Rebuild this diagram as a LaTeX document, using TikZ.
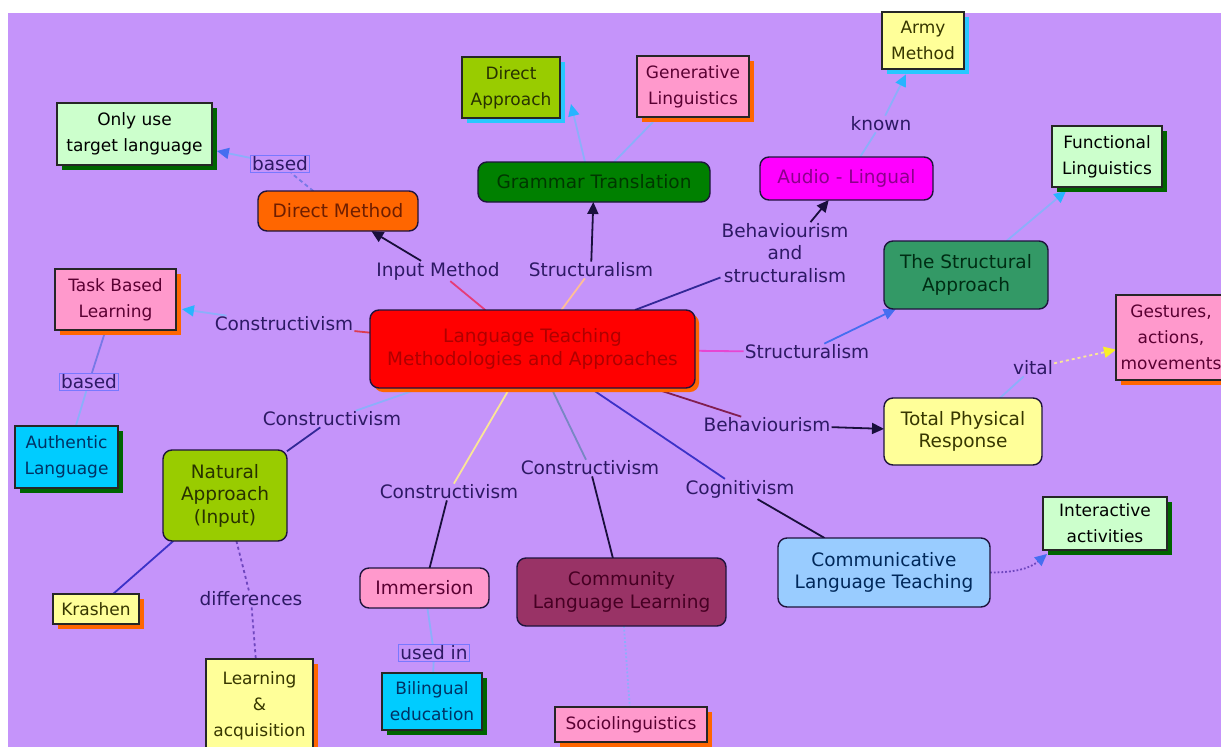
\documentclass[tikz,border=0pt]{standalone}
\usepackage{fontspec}
\setmainfont{DejaVu Sans}
\usetikzlibrary{arrows.meta,shadows}
\pgfdeclarelayer{bg}
\pgfdeclarelayer{edges}
\pgfsetlayers{bg,edges,main}
\definecolor{bgpurple}{RGB}{197,148,250}
\definecolor{boxline}{RGB}{30,20,60}
\definecolor{labtext}{RGB}{45,25,100}
\definecolor{labbox}{RGB}{120,120,255}
\definecolor{shorange}{RGB}{255,102,0}
\definecolor{shgreen}{RGB}{0,100,0}
\definecolor{shcyan}{RGB}{40,200,255}
\definecolor{cred}{RGB}{255,0,0}
\definecolor{credtext}{RGB}{175,0,0}
\definecolor{corange}{RGB}{255,102,0}
\definecolor{corangetext}{RGB}{110,30,0}
\definecolor{cgreen}{RGB}{0,128,0}
\definecolor{cgreentext}{RGB}{0,55,0}
\definecolor{cmag}{RGB}{255,0,255}
\definecolor{cmagtext}{RGB}{140,0,140}
\definecolor{cteal}{RGB}{51,153,102}
\definecolor{ctealtext}{RGB}{0,45,20}
\definecolor{cyel}{RGB}{255,255,153}
\definecolor{cyeltext}{RGB}{55,55,0}
\definecolor{cltblue}{RGB}{153,204,255}
\definecolor{cltbluetext}{RGB}{0,40,90}
\definecolor{cmaroon}{RGB}{153,51,102}
\definecolor{cmaroontext}{RGB}{70,0,35}
\definecolor{cpink}{RGB}{255,153,204}
\definecolor{cpinktext}{RGB}{90,0,50}
\definecolor{clime}{RGB}{153,204,0}
\definecolor{climetext}{RGB}{40,50,0}
\definecolor{cmint}{RGB}{204,255,204}
\definecolor{ccyan}{RGB}{0,204,255}
\definecolor{ccyantext}{RGB}{0,50,100}
\definecolor{dark}{RGB}{25,15,60}
\definecolor{lblue}{RGB}{140,175,250}
\definecolor{arrcyan}{RGB}{40,180,255}
\definecolor{arrblue}{RGB}{70,110,240}
\definecolor{lnpink}{RGB}{230,60,120}
\definecolor{lnpeach}{RGB}{255,190,150}
\definecolor{lnnavy}{RGB}{50,40,150}
\definecolor{lnmag}{RGB}{230,70,210}
\definecolor{lnmaroon}{RGB}{130,30,80}
\definecolor{lnblue}{RGB}{60,50,200}
\definecolor{lnslate}{RGB}{120,135,195}
\definecolor{lnyellow}{RGB}{250,230,150}
\definecolor{lnred}{RGB}{220,60,80}
\definecolor{lnpurple}{RGB}{110,70,190}
\definecolor{lnlav}{RGB}{120,120,230}
\definecolor{arryellow}{RGB}{250,240,40}
\newcommand\rfont{\fontsize{18.5}{22.5}\selectfont}
\newcommand\cfont{\fontsize{17}{26}\selectfont}
\tikzset{
  rbox/.style={draw=boxline, line width=1.4pt, rounded corners=9pt, inner sep=0pt, outer sep=0pt, align=center, font=\rfont},
  cbox/.style={draw=black!85, line width=1.2pt, inner sep=0pt, outer sep=0pt, align=center, font=\cfont},
  sh/.style={drop shadow={shadow xshift=5pt, shadow yshift=-5pt, fill=#1, opacity=1}},
  lab/.style={text=labtext, font=\rfont, inner sep=1pt, align=center},
  blab/.style={lab, draw=labbox, line width=0.8pt, inner sep=1.5pt},
  conn/.style={line width=1.8pt},
  arr/.style={-{Triangle[length=12pt,width=11pt]}},
}
\begin{document}
\begin{tikzpicture}[x=1pt,y=-1pt]
\useasboundingbox (0,0) rectangle (1221,747);
\begin{pgfonlayer}{bg}
\fill[white] (0,0) rectangle (1221,747);
\fill[bgpurple] (8,13) rectangle (1221,747);
\end{pgfonlayer}
\clip (0,0) rectangle (1221,747);

% rounded boxes
\node[rbox, fill=cred, text=credtext, minimum width=325pt, minimum height=78pt, drop shadow={shadow xshift=4pt, shadow yshift=-4pt, fill=shorange, opacity=1}] (central) at (532.5,349) {Language Teaching\\Methodologies and Approaches};
\node[rbox, fill=corange, text=corangetext, minimum width=160pt, minimum height=40pt] (dm) at (338,211) {Direct Method};
\node[rbox, fill=cgreen, text=cgreentext, minimum width=232pt, minimum height=40pt] (gt) at (594,182) {Grammar Translation};
\node[rbox, fill=cmag, text=cmagtext, minimum width=173pt, minimum height=43pt] (al) at (846.5,178.5) {Audio - Lingual};
\node[rbox, fill=cteal, text=ctealtext, minimum width=164pt, minimum height=68pt] (sa) at (966,275) {The Structural\\Approach};
\node[rbox, fill=cyel, text=cyeltext, minimum width=158pt, minimum height=67pt] (tpr) at (963,431.5) {Total Physical\\Response};
\node[rbox, fill=cltblue, text=cltbluetext, minimum width=212pt, minimum height=69pt] (clt) at (884,572.5) {Communicative\\Language Teaching};
\node[rbox, fill=cmaroon, text=cmaroontext, minimum width=209pt, minimum height=68pt] (cll) at (621.5,592) {Community\\Language Learning};
\node[rbox, fill=cpink, text=cpinktext, minimum width=129pt, minimum height=40pt] (imm) at (424.5,588) {Immersion};
\node[rbox, fill=clime, text=climetext, minimum width=124pt, minimum height=91pt] (na) at (225,495.5) {Natural\\Approach\\(Input)};

% rectangular concept boxes
\node[cbox, fill=cmint, text=black, minimum width=155pt, minimum height=62pt, sh=shgreen] (ou) at (134.5,134) {Only use\\target language};
\node[cbox, fill=clime, text=climetext, minimum width=98pt, minimum height=61pt, sh=shcyan] (da) at (511,87.5) {Direct\\Approach};
\node[cbox, fill=cpink, text=cpinktext, minimum width=112pt, minimum height=61pt, sh=shorange] (gl) at (693,86.5) {Generative\\Linguistics};
\node[cbox, fill=cyel, text=cyeltext, minimum width=82pt, minimum height=57pt, sh=shcyan] (am) at (923,40.5) {Army\\Method};
\node[cbox, fill=cmint, text=black, minimum width=110pt, minimum height=61pt, sh=shgreen] (fl) at (1107,156.5) {Functional\\Linguistics};
\node[cbox, fill=cpink, text=cpinktext, minimum width=110pt, minimum height=85pt, sh=shorange] (ges) at (1171,337.5) {Gestures,\\actions,\\movements};
\node[cbox, fill=cpink, text=cpinktext, minimum width=121pt, minimum height=61pt, sh=shorange] (tbl) at (115.5,299.5) {Task Based\\Learning};
\node[cbox, fill=ccyan, text=ccyantext, minimum width=103pt, minimum height=62pt, sh=shgreen] (auth) at (66.5,457) {Authentic\\Language};
\node[cbox, fill=cyel, text=cyeltext, minimum width=86pt, minimum height=30pt, sh=shorange] (kra) at (96,609) {Krashen};
\node[cbox, fill=cyel, text=cyeltext, minimum width=107pt, minimum height=93pt, sh=shorange] (learn) at (259.5,705.5) {Learning\\\&\\acquisition};
\node[cbox, fill=ccyan, text=ccyantext, minimum width=100pt, minimum height=57pt, sh=shgreen] (bil) at (432,701.5) {Bilingual\\education};
\node[cbox, fill=cpink, text=cpinktext, minimum width=152pt, minimum height=35pt, sh=shorange] (soc) at (631,724.5) {Sociolinguistics};
\node[cbox, fill=cmint, text=black, minimum width=124pt, minimum height=53pt, sh=shgreen] (ia) at (1105,523.5) {Interactive\\activities};

% linking phrases
\node[lab] (lInput) at (438,271) {Input Method};
\node[lab] (lStrA) at (591,270) {Structuralism};
\node[lab] (lBehStr) at (785,253) {Behaviourism\\and\\structuralism};
\node[lab] (lStrB) at (807,352) {Structuralism};
\node[lab] (lBeh) at (767,425) {Behaviourism};
\node[lab] (lCog) at (740,489) {Cognitivism};
\node[lab] (lConA) at (590,468) {Constructivism};
\node[lab] (lConB) at (449,492) {Constructivism};
\node[lab] (lConC) at (332,419) {Constructivism};
\node[lab] (lConD) at (284,324) {Constructivism};
\node[lab] (lKnown) at (881,124) {known};
\node[lab] (lVital) at (1033,368) {vital};
\node[lab] (lDiff) at (251,599) {differences};
\node[blab] (lBasedA) at (280,164) {based};
\node[blab] (lBasedB) at (89,382) {based};
\node[blab] (lUsed) at (434,653) {used in};

\begin{pgfonlayer}{edges}
\draw[conn, lnpink] (central) -- (lInput);
\draw[conn, dark, arr] (lInput) -- (dm);
\draw[conn, lnpeach] (central) -- (lStrA);
\draw[conn, dark, arr] (lStrA) -- (gt);
\draw[conn, lnnavy] (central) -- (lBehStr);
\draw[conn, dark, arr] (lBehStr) -- (al);
\draw[conn, lnmag] (central) -- (lStrB);
\draw[conn, arrblue, arr] (lStrB) -- (sa);
\draw[conn, lnmaroon] (central) -- (lBeh);
\draw[conn, dark, arr] (lBeh) -- (tpr);
\draw[conn, lnblue] (central) -- (lCog);
\draw[conn, dark] (lCog) -- (clt);
\draw[conn, lnslate] (central) -- (lConA);
\draw[conn, dark] (lConA) -- (cll);
\draw[conn, lnyellow] (central) -- (lConB);
\draw[conn, dark] (lConB) -- (imm);
\draw[conn, lblue] (central) -- (lConC);
\draw[conn, lnnavy] (lConC) -- (na);
\draw[conn, lnred] (central) -- (lConD);
\draw[conn, lblue, -{Triangle[length=12pt,width=11pt,color=arrcyan]}, shorten >=6pt] (lConD) -- (tbl);
\draw[conn, lnlav, dashed, dash pattern=on 4pt off 3pt] (dm) -- (lBasedA);
\draw[conn, lblue, -{Triangle[length=12pt,width=11pt,color=arrblue]}, shorten >=5pt] (lBasedA) -- (ou);
\draw[conn, lblue, -{Triangle[length=12pt,width=11pt,color=arrcyan]}] ([xshift=-9pt]gt.north) -- ([xshift=11pt,yshift=14pt]da.south east);
\draw[conn, lblue] ([xshift=20pt]gt.north) -- ([xshift=16pt,yshift=-5pt]gl.south west);
\draw[conn, lblue] (al) -- (lKnown);
\draw[conn, lblue, -{Triangle[length=12pt,width=11pt,color=arrcyan]}, shorten >=6pt] (lKnown) -- (am);
\draw[conn, lblue, -{Triangle[length=12pt,width=11pt,color=arrcyan]}, shorten >=6pt] (sa) -- (fl);
\draw[conn, lblue] (tpr) -- (lVital);
\draw[conn, lnyellow, dashed, -{Triangle[length=12pt,width=11pt,color=arryellow]}] (lVital) -- (ges);
\draw[conn, lnlav] (tbl) -- (lBasedB);
\draw[conn, lblue] (lBasedB) -- (auth);
\draw[conn, lnblue] (na) -- (kra);
\draw[conn, lnpurple, dashed] (na) -- (lDiff);
\draw[conn, lnpurple, dashed] (lDiff) -- (learn);
\draw[conn, lblue] (imm) -- (lUsed);
\draw[conn, lblue] (lUsed) -- (bil);
\draw[conn, lblue, dotted] (cll) -- (soc);
\draw[conn, lnpurple, dotted, -{Triangle[length=12pt,width=11pt,color=arrblue]}] (clt.east) to[out=0,in=-140] ([xshift=4pt,yshift=-4pt]ia.south west);
\end{pgfonlayer}
\end{tikzpicture}
\end{document}
